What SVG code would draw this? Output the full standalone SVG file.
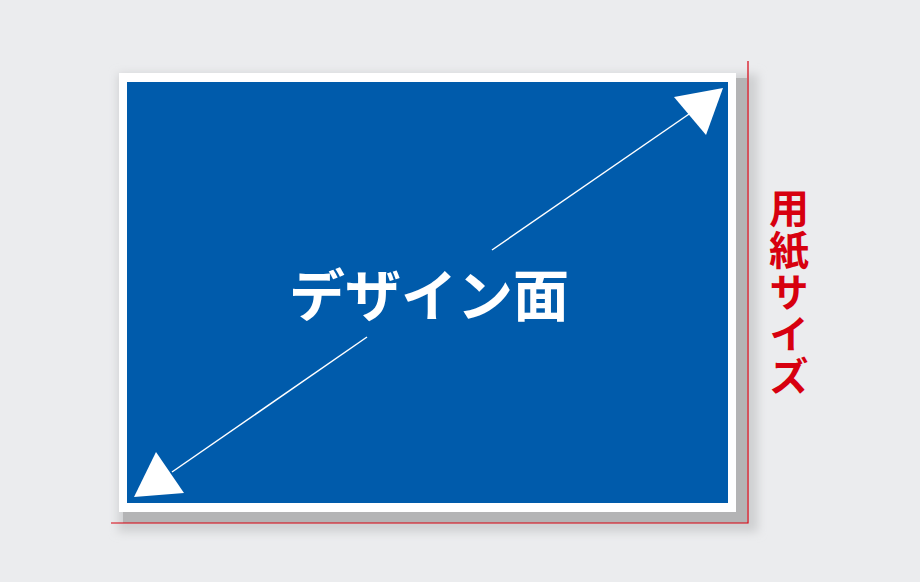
<svg xmlns="http://www.w3.org/2000/svg" width="920" height="582" viewBox="0 0 920 582">
<defs>
<filter id="blur" x="-10%" y="-10%" width="120%" height="120%"><feGaussianBlur stdDeviation="5"/></filter>
<style>
.ttl{font-family:"Noto Sans CJK JP","Noto Sans CJK SC",sans-serif;font-weight:bold;}
.guide{fill:none;stroke:#d7000f;stroke-width:1.2;}
.arr{stroke:#ffffff;stroke-width:1.5;fill:none;}
.head{fill:#ffffff;}
</style>
</defs>
<rect width="920" height="582" fill="#ebecee"/>
<g id="paper">
<rect x="118" y="74" width="640" height="458" fill="#cfd0d2" filter="url(#blur)"/>
<rect x="123" y="78" width="624" height="445" fill="#b4b4b5"/>
<rect x="119" y="73" width="617" height="439" fill="#ffffff"/>
<rect x="127" y="82" width="601" height="421" fill="#005bab"/>
</g>
<g id="connectors">
<polyline class="guide" points="111,523 748,523 748,61"/>
<line class="arr" x1="172" y1="472" x2="367" y2="337"/>
<line class="arr" x1="492" y1="250" x2="692" y2="112"/>
<polygon class="head" points="674,97 723,88 706,135"/>
<polygon class="head" points="156,452 134,497 184,493"/>
</g>
<g id="design-label">
<text class="ttl" x="429" y="316" font-size="56" fill="#ffffff" text-anchor="middle">デザイン面</text>
</g>
<g id="paper-label">
<text class="ttl" x="789" y="188" font-size="40" fill="#d7000f" writing-mode="vertical-rl" letter-spacing="2">用紙サイズ</text>
</g>
</svg>
